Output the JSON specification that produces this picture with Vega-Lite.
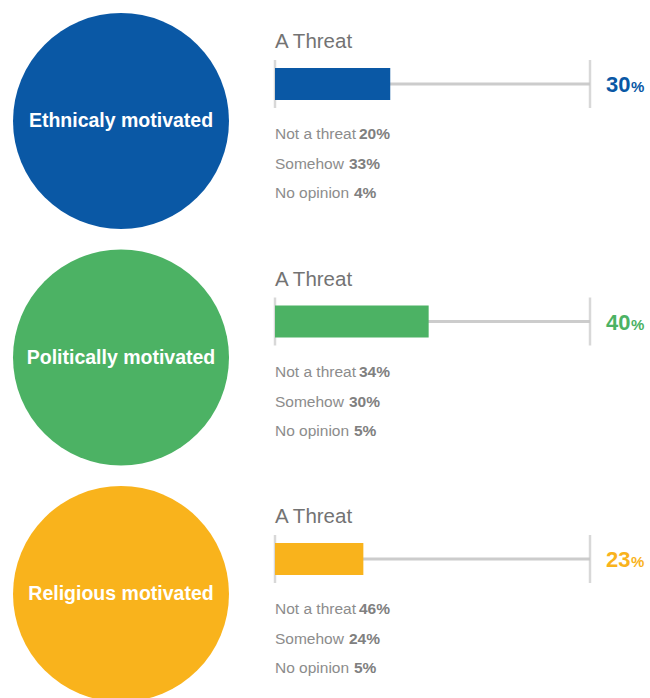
{
  "$schema": "https://vega.github.io/schema/vega-lite/v6.json",
  "padding": 0,
  "background": "white",
  "spacing": 0,
  "config": {"view": {"stroke": null}, "font": "Liberation Sans, Arial, sans-serif"},
  "datasets": {
    "rows": [
      {"motive": "Ethnicaly motivated", "threat": 30, "notThreat": 0.20, "somehow": 0.33, "noOpinion": 0.04},
      {"motive": "Politically motivated", "threat": 40, "notThreat": 0.34, "somehow": 0.30, "noOpinion": 0.05},
      {"motive": "Religious motivated", "threat": 23, "notThreat": 0.46, "somehow": 0.24, "noOpinion": 0.05}
    ]
  },
  "hconcat": [
    {
      "width": 242,
      "height": 698,
      "data": {"name": "rows"},
      "encoding": {
        "y": {"field": "motive", "type": "nominal", "axis": null,
              "scale": {"type": "point", "padding": 0, "domain": ["Ethnicaly motivated", "Politically motivated", "Religious motivated"], "range": [121, 594]}}
      },
      "layer": [
        {
          "mark": {"type": "point", "shape": "circle", "filled": true, "opacity": 1, "size": 46656, "strokeWidth": 0},
          "encoding": {
            "color": {"field": "motive", "type": "nominal", "legend": null,
                      "scale": {"domain": ["Ethnicaly motivated", "Politically motivated", "Religious motivated"], "range": ["#0a58a5", "#4cb264", "#f9b31c"]}}
          }
        },
        {
          "mark": {"type": "text", "color": "white", "fontWeight": "bold", "fontSize": 19.5, "align": "center", "baseline": "middle"},
          "encoding": {"text": {"field": "motive", "type": "nominal"}}
        }
      ]
    },
    {
      "width": 408,
      "height": 698,
      "data": {"name": "rows"},
      "encoding": {
        "y": {"field": "motive", "type": "nominal", "axis": null,
              "scale": {"type": "point", "padding": 0, "domain": ["Ethnicaly motivated", "Politically motivated", "Religious motivated"], "range": [84, 559]}}
      },
      "layer": [
        {
          "mark": {"type": "rule", "color": "#cccccc", "strokeWidth": 3},
          "encoding": {
            "x": {"datum": 0, "type": "quantitative", "axis": null, "scale": {"domain": [0, 82], "nice": false, "zero": false, "range": [33, 348]}},
            "x2": {"datum": 82}
          }
        },
        {
          "mark": {"type": "tick", "color": "#c8c8c8", "thickness": 2.5, "size": 48, "orient": "vertical"},
          "encoding": {"x": {"datum": 0, "type": "quantitative"}}
        },
        {
          "mark": {"type": "tick", "color": "#c8c8c8", "thickness": 2.5, "size": 48, "orient": "vertical"},
          "encoding": {"x": {"datum": 82, "type": "quantitative"}}
        },
        {
          "mark": {"type": "bar", "height": 32},
          "encoding": {
            "x": {"field": "threat", "type": "quantitative"},
            "color": {"field": "motive", "type": "nominal", "legend": null,
                      "scale": {"domain": ["Ethnicaly motivated", "Politically motivated", "Religious motivated"], "range": ["#0a58a5", "#4cb264", "#f9b31c"]}}
          }
        },
        {
          "mark": {"type": "text", "text": "A Threat", "align": "left", "baseline": "alphabetic", "dy": -36, "fontSize": 20.5, "color": "#737373"},
          "encoding": {"x": {"datum": 0, "type": "quantitative"}}
        },
        {
          "mark": {"type": "text", "align": "left", "baseline": "alphabetic", "dx": 16, "dy": 8, "fontSize": 22, "fontWeight": "bold"},
          "encoding": {
            "x": {"datum": 82, "type": "quantitative"},
            "text": {"field": "threat", "type": "quantitative", "format": "d"},
            "color": {"field": "motive", "type": "nominal", "legend": null}
          }
        },
        {
          "mark": {"type": "text", "text": "%", "align": "left", "baseline": "alphabetic", "dx": 41, "dy": 8, "fontSize": 15, "fontWeight": "bold"},
          "encoding": {
            "x": {"datum": 82, "type": "quantitative"},
            "color": {"field": "motive", "type": "nominal", "legend": null}
          }
        },
        {
          "mark": {"type": "text", "text": "Not a threat", "align": "left", "baseline": "alphabetic", "dy": 55, "fontSize": 15.5, "color": "#8c8c8c"},
          "encoding": {"x": {"datum": 0, "type": "quantitative"}}
        },
        {
          "mark": {"type": "text", "align": "left", "baseline": "alphabetic", "dx": 84, "dy": 55, "fontSize": 15.5, "fontWeight": "bold", "color": "#808080"},
          "encoding": {"x": {"datum": 0, "type": "quantitative"}, "text": {"field": "notThreat", "type": "quantitative", "format": ".0%"}}
        },
        {
          "mark": {"type": "text", "text": "Somehow", "align": "left", "baseline": "alphabetic", "dy": 85, "fontSize": 15.5, "color": "#8c8c8c"},
          "encoding": {"x": {"datum": 0, "type": "quantitative"}}
        },
        {
          "mark": {"type": "text", "align": "left", "baseline": "alphabetic", "dx": 74, "dy": 85, "fontSize": 15.5, "fontWeight": "bold", "color": "#808080"},
          "encoding": {"x": {"datum": 0, "type": "quantitative"}, "text": {"field": "somehow", "type": "quantitative", "format": ".0%"}}
        },
        {
          "mark": {"type": "text", "text": "No opinion", "align": "left", "baseline": "alphabetic", "dy": 114, "fontSize": 15.5, "color": "#8c8c8c"},
          "encoding": {"x": {"datum": 0, "type": "quantitative"}}
        },
        {
          "mark": {"type": "text", "align": "left", "baseline": "alphabetic", "dx": 79, "dy": 114, "fontSize": 15.5, "fontWeight": "bold", "color": "#808080"},
          "encoding": {"x": {"datum": 0, "type": "quantitative"}, "text": {"field": "noOpinion", "type": "quantitative", "format": ".0%"}}
        }
      ]
    }
  ]
}
